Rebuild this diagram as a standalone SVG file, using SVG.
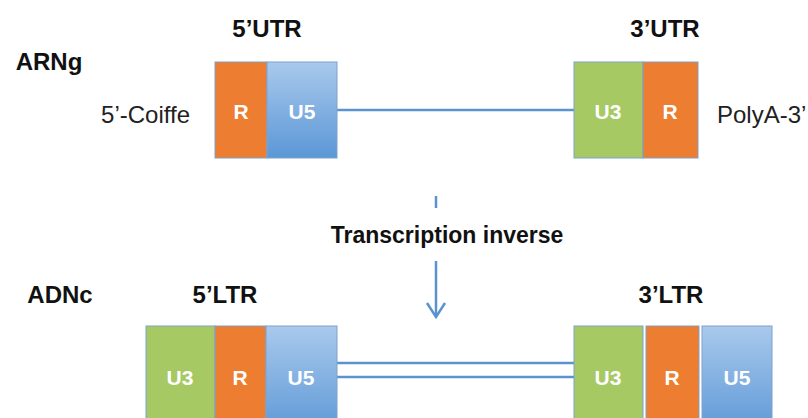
<svg xmlns="http://www.w3.org/2000/svg" width="808" height="418" viewBox="0 0 808 418">
<defs>
<linearGradient id="blue" x1="0" y1="0" x2="0" y2="1">
<stop offset="0" stop-color="#a9c9ec"/>
<stop offset="1" stop-color="#5b97d6"/>
</linearGradient>
<style>
.title{font-family:"Liberation Sans",Arial,sans-serif;font-weight:bold;font-size:24px;fill:#111;text-anchor:middle}
.side{font-family:"Liberation Sans",Arial,sans-serif;font-size:24px;fill:#222}
.lbl{font-family:"Liberation Sans",Arial,sans-serif;font-weight:bold;font-size:21px;fill:#fff;text-anchor:middle}
.o{fill:#ed7d31;stroke:#7ea1cc;stroke-width:1}
.g{fill:#a6c964;stroke:#7ea1cc;stroke-width:1}
.b{fill:url(#blue);stroke:#7ea1cc;stroke-width:1}
.ln{stroke:#5b93cf;stroke-width:2.5;fill:none}
</style>
</defs>
<rect width="808" height="418" fill="#fff"/>

<g id="labels">
<text class="title" x="49" y="70" font-size="26">ARNg</text>
<text class="title" x="60" y="303" font-size="27">ADNc</text>
<text class="title" x="267" y="37">5’UTR</text>
<text class="title" x="665" y="37">3’UTR</text>
<text class="title" x="225" y="303">5’LTR</text>
<text class="title" x="671" y="303">3’LTR</text>
<text class="side" x="190" y="123" text-anchor="end">5’-Coiffe</text>
<text class="side" x="717" y="123">PolyA-3’</text>
</g>

<g id="connectors">
<line class="ln" x1="337" y1="110" x2="574" y2="110"/>
<line class="ln" x1="337" y1="363" x2="574" y2="363"/>
<line class="ln" x1="337" y1="377" x2="574" y2="377"/>
<line class="ln" x1="436" y1="196" x2="436" y2="208"/>
<line class="ln" x1="436" y1="261" x2="436" y2="317"/>
<polyline class="ln" points="427,303 436,317 445,303"/>
<text x="447" y="243" font-family="Liberation Sans, Arial, sans-serif" font-weight="bold" font-size="23" fill="#111" text-anchor="middle">Transcription inverse</text>
</g>

<g id="arng-5utr">
<rect class="o" x="215" y="62" width="52" height="96"/>
<rect class="b" x="267" y="62" width="70" height="96"/>
<text class="lbl" x="241" y="119">R</text>
<text class="lbl" x="302" y="119">U5</text>
</g>

<g id="arng-3utr">
<rect class="g" x="574" y="62" width="69" height="96"/>
<rect class="o" x="643" y="62" width="55" height="96"/>
<text class="lbl" x="608" y="119">U3</text>
<text class="lbl" x="670" y="119">R</text>
</g>

<g id="adnc-5ltr">
<rect class="g" x="146" y="326" width="69" height="110"/>
<rect class="o" x="215" y="326" width="51" height="110"/>
<rect class="b" x="266" y="326" width="71" height="110"/>
<text class="lbl" x="180" y="385">U3</text>
<text class="lbl" x="240" y="385">R</text>
<text class="lbl" x="301" y="385">U5</text>
</g>

<g id="adnc-3ltr">
<rect class="g" x="574" y="326" width="69" height="110"/>
<rect class="o" x="646" y="326" width="53" height="110"/>
<rect class="b" x="702" y="326" width="70" height="110"/>
<text class="lbl" x="608" y="385">U3</text>
<text class="lbl" x="672" y="385">R</text>
<text class="lbl" x="737" y="385">U5</text>
</g>
</svg>
